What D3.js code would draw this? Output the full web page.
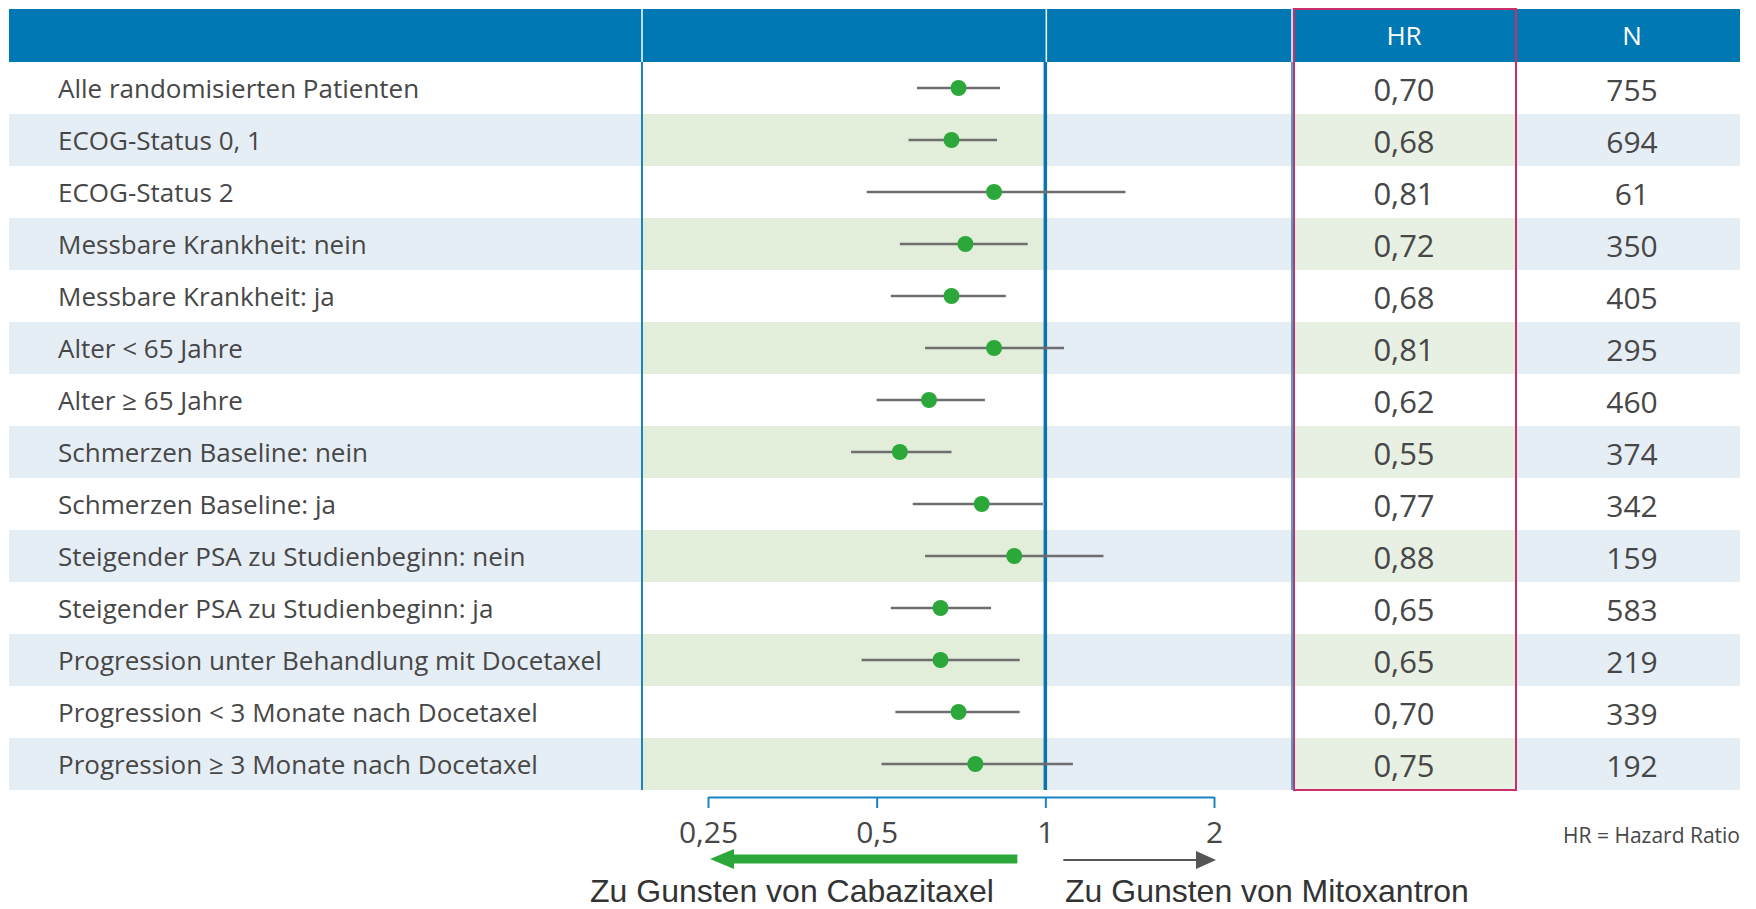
<!DOCTYPE html>
<html lang="de">
<head>
<meta charset="utf-8">
<title>Overall Survival – Subgruppenanalyse</title>
<script src="https://cdn.jsdelivr.net/npm/d3@7"></script>
<style>
  html, body { margin: 0; padding: 0; background: #ffffff; }
  svg { display: block; }
</style>
</head>
<body>
<svg id="chart" width="1756" height="909"></svg>
<script>
// Subgroups, hazard ratios with 95 % confidence limits, and patient numbers
const subgroups = [
  "Alle randomisierten Patienten",
  "ECOG-Status 0, 1",
  "ECOG-Status 2",
  "Messbare Krankheit: nein",
  "Messbare Krankheit: ja",
  "Alter < 65 Jahre",
  "Alter \u2265 65 Jahre",
  "Schmerzen Baseline: nein",
  "Schmerzen Baseline: ja",
  "Steigender PSA zu Studienbeginn: nein",
  "Steigender PSA zu Studienbeginn: ja",
  "Progression unter Behandlung mit Docetaxel",
  "Progression < 3 Monate nach Docetaxel",
  "Progression \u2265 3 Monate nach Docetaxel"
];
const hr      = [0.70, 0.68, 0.81, 0.72, 0.68, 0.81, 0.62, 0.55, 0.77, 0.88, 0.65, 0.65, 0.70, 0.75];
const ciLower = [0.59, 0.57, 0.48, 0.55, 0.53, 0.61, 0.50, 0.45, 0.58, 0.61, 0.53, 0.47, 0.54, 0.51];
const ciUpper = [0.83, 0.82, 1.39, 0.93, 0.85, 1.08, 0.78, 0.68, 0.99, 1.27, 0.80, 0.90, 0.90, 1.12];
const nPatients = [755, 694, 61, 350, 405, 295, 460, 374, 342, 159, 583, 219, 339, 192];

const tickValues = [0.25, 0.5, 1, 2];
const tickLabels = ["0,25", "0,5", "1", "2"];
const columnHeaders = ["HR", "N"];
const favourLeft = "Zu Gunsten von Cabazitaxel";
const favourRight = "Zu Gunsten von Mitoxantron";
const footnote = "HR = Hazard Ratio";

// ---- layout ----
const tableLeft = 9, tableRight = 1740;
const headerTop = 9, headerBottom = 62;
const rowsBottom = 790;
const plotLeft = 642;          // divider between labels and plot column
const hrBoxLeft = 1294, hrBoxRight = 1516;
const hrCenter = 1404, nCenter = 1632;
const axisY = 797;

const colors = {
  header: "#0078b4",
  blueBand: "#e5edf5",
  greenBand: "#e2edda",
  hrGreenBand: "#e8efe3",
  divider: "#1a84c3",
  refLine: "#0a74b3",
  hrBox: "#c9306a",
  text: "#474747",
  dot: "#2ca83a",
  ci: "#6e6e6e",
  arrowGreen: "#2ca83a",
  arrowGray: "#555555",
  caption: "#333333"
};

const svg = d3.select("#chart");

const x = d3.scaleLog().base(2).domain([0.25, 2]).range([708, 1214]);
const y = d3.scaleBand().domain(d3.range(subgroups.length)).range([headerBottom, rowsBottom]).padding(0);
const xRef = x(1);
const cy = i => y(i) + y.bandwidth() / 2;

const rows = subgroups.map((label, i) => ({
  label, hr: hr[i], lo: ciLower[i], hi: ciUpper[i], n: nPatients[i], i
}));

// ---- row bands (every second row shaded) ----
const bands = svg.append("g").attr("class", "bands");
rows.filter(d => d.i % 2 === 1).forEach(d => {
  const y0 = y(d.i), h = y.bandwidth();
  const seg = [
    [tableLeft, plotLeft, colors.blueBand],
    [plotLeft, xRef, colors.greenBand],
    [xRef, hrBoxLeft, colors.blueBand],
    [hrBoxLeft, hrBoxRight, colors.hrGreenBand],
    [hrBoxRight, tableRight, colors.blueBand]
  ];
  seg.forEach(([a, b, c]) => {
    bands.append("rect").attr("x", a).attr("y", y0).attr("width", b - a).attr("height", h).attr("fill", c);
  });
});

// ---- header ----
const header = svg.append("g").attr("class", "header");
header.append("rect")
  .attr("x", tableLeft).attr("y", headerTop)
  .attr("width", tableRight - tableLeft).attr("height", headerBottom - headerTop)
  .attr("fill", colors.header);
[plotLeft, xRef + 1, hrBoxLeft - 2].forEach(xx => {
  header.append("line")
    .attr("x1", xx).attr("x2", xx).attr("y1", headerTop).attr("y2", headerBottom)
    .attr("stroke", "#ffffff").attr("stroke-width", 1.5);
});
header.selectAll("text.col").data(columnHeaders).join("text")
  .attr("class", "col")
  .attr("x", (d, i) => i === 0 ? hrCenter : nCenter)
  .attr("y", 45)
  .attr("text-anchor", "middle")
  .attr("font-family", "'Open Sans', sans-serif")
  .attr("font-size", 26)
  .attr("fill", "#ffffff")
  .text(d => d);

// ---- vertical dividers ----
svg.append("line")
  .attr("x1", plotLeft).attr("x2", plotLeft).attr("y1", headerBottom).attr("y2", rowsBottom)
  .attr("stroke", colors.divider).attr("stroke-width", 2);
svg.append("line")
  .attr("x1", hrBoxLeft - 2).attr("x2", hrBoxLeft - 2).attr("y1", headerBottom).attr("y2", rowsBottom)
  .attr("stroke", colors.divider).attr("stroke-width", 1.5);
svg.append("line")
  .attr("x1", xRef).attr("x2", xRef).attr("y1", headerBottom).attr("y2", rowsBottom)
  .attr("stroke", colors.refLine).attr("stroke-width", 3.5);

// ---- row labels ----
svg.append("g").selectAll("text").data(rows).join("text")
  .attr("x", 58)
  .attr("y", d => cy(d.i) + 10)
  .attr("font-family", "'Open Sans', sans-serif")
  .attr("font-size", 26)
  .attr("fill", colors.text)
  .text(d => d.label);

// ---- confidence intervals and point estimates ----
const marks = svg.append("g").attr("class", "marks");
marks.selectAll("line").data(rows).join("line")
  .attr("x1", d => x(d.lo)).attr("x2", d => x(d.hi))
  .attr("y1", d => cy(d.i))
  .attr("y2", d => cy(d.i))
  .attr("stroke", colors.ci).attr("stroke-width", 2.6);
marks.selectAll("circle").data(rows).join("circle")
  .attr("cx", d => x(d.hr))
  .attr("cy", d => cy(d.i))
  .attr("r", 8)
  .attr("fill", colors.dot);

// ---- HR and N columns ----
const fmtHR = d => d.toFixed(2).replace(".", ",");
svg.append("g").selectAll("text").data(rows).join("text")
  .attr("x", hrCenter)
  .attr("y", d => cy(d.i) + 13)
  .attr("text-anchor", "middle")
  .attr("font-family", "'Open Sans', sans-serif")
  .attr("font-size", 31)
  .attr("fill", colors.text)
  .text(d => fmtHR(d.hr));
svg.append("g").selectAll("text").data(rows).join("text")
  .attr("x", nCenter)
  .attr("y", d => cy(d.i) + 13)
  .attr("text-anchor", "middle")
  .attr("font-family", "'Open Sans', sans-serif")
  .attr("font-size", 30)
  .attr("fill", colors.text)
  .text(d => d.n);

// ---- HR column frame ----
svg.append("rect")
  .attr("x", hrBoxLeft).attr("y", headerTop)
  .attr("width", hrBoxRight - hrBoxLeft).attr("height", rowsBottom - headerTop)
  .attr("fill", "none").attr("stroke", colors.hrBox).attr("stroke-width", 2);

// ---- log axis ----
const axis = d3.axisBottom(x)
  .tickValues(tickValues)
  .tickFormat((d, i) => tickLabels[i])
  .tickSize(11)
  .tickSizeOuter(0);
const gAxis = svg.append("g").attr("transform", `translate(0,${axisY})`).call(axis);
gAxis.select(".domain").attr("stroke", colors.divider).attr("stroke-width", 2);
gAxis.selectAll(".tick line").attr("stroke", colors.divider).attr("stroke-width", 2);
gAxis.selectAll(".tick text")
  .attr("y", 46).attr("dy", 0)
  .attr("font-family", "'Open Sans', sans-serif")
  .attr("font-size", 30)
  .attr("fill", colors.text);

// ---- direction arrows ----
const arrowY = 859;
// green arrow pointing left (favours Cabazitaxel)
svg.append("rect")
  .attr("x", x(0.25) + 20).attr("y", arrowY - 4.5)
  .attr("width", (xRef - 28) - (x(0.25) + 20)).attr("height", 9)
  .attr("fill", colors.arrowGreen);
svg.append("path")
  .attr("d", d3.line()([[x(0.25) + 2, arrowY], [x(0.25) + 26, arrowY - 10], [x(0.25) + 26, arrowY + 10]]) + "Z")
  .attr("fill", colors.arrowGreen);
// gray arrow pointing right (favours Mitoxantron)
svg.append("line")
  .attr("x1", xRef + 18).attr("x2", x(2) - 14)
  .attr("y1", arrowY + 1).attr("y2", arrowY + 1)
  .attr("stroke", colors.arrowGray).attr("stroke-width", 2);
svg.append("path")
  .attr("d", d3.line()([[x(2) + 2, arrowY + 1], [x(2) - 18, arrowY - 8], [x(2) - 18, arrowY + 10]]) + "Z")
  .attr("fill", colors.arrowGray);

// ---- captions ----
svg.append("text")
  .attr("x", 590).attr("y", 902)
  .attr("font-family", "'Liberation Sans', Arial, sans-serif")
  .attr("font-size", 32)
  .attr("fill", colors.caption)
  .text(favourLeft);
svg.append("text")
  .attr("x", 1065).attr("y", 902)
  .attr("font-family", "'Liberation Sans', Arial, sans-serif")
  .attr("font-size", 32)
  .attr("fill", colors.caption)
  .text(favourRight);

svg.append("text")
  .attr("x", tableRight).attr("y", 843)
  .attr("text-anchor", "end")
  .attr("font-family", "'Open Sans', sans-serif")
  .attr("font-size", 21)
  .attr("fill", colors.text)
  .text(footnote);
</script>
</body>
</html>
